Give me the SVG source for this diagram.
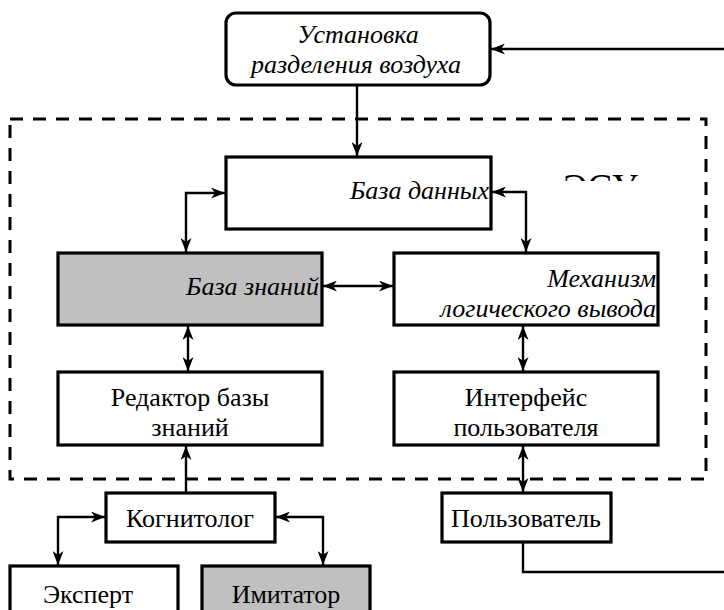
<svg xmlns="http://www.w3.org/2000/svg" width="724" height="610" viewBox="0 0 724 610">
<style>
.box{fill:#ffffff;stroke:#000;stroke-width:3.2}
.gray{fill:#c0c0c0;stroke:#000;stroke-width:3.2}
.t{font-family:'Liberation Serif','Times New Roman',serif;font-size:26px;fill:#000}
.i{font-style:italic}
.c{stroke:#000;stroke-width:2.4;fill:none}
.bi{marker-start:url(#arr);marker-end:url(#arr)}
.one{marker-end:url(#arr)}
</style>
<defs>
<marker id="arr" markerUnits="userSpaceOnUse" markerWidth="15" markerHeight="11" viewBox="0 0 15 11" refX="14" refY="5.5" orient="auto-start-reverse">
<path d="M0,0 L14,5.5 L0,11 L4,5.5 z" fill="#000"/>
</marker>
<clipPath id="esuClip"><rect x="540" y="160" width="140" height="21"/></clipPath>
</defs>

<rect id="esu-frame" x="10" y="119" width="696" height="360" fill="none" stroke="#000" stroke-width="3" stroke-dasharray="13 10"/>

<text class="t" x="563" y="200" style="font-size:37px" clip-path="url(#esuClip)">ЭСУ</text>

<g id="connectors">
<path class="c one" d="M357,86 V156"/>
<path class="c bi" d="M225,193 H186 V252"/>
<path class="c bi" d="M492,192 H526 V252"/>
<path class="c bi" d="M323,286 H393"/>
<path class="c bi" d="M188,326 V371"/>
<path class="c bi" d="M523,326 V371"/>
<path class="c one" d="M186,492 V446"/>
<path class="c bi" d="M523,446 V492"/>
<path class="c bi" d="M105,517 H58 V565"/>
<path class="c bi" d="M276,517 H323 V565"/>
<path class="c" d="M523,543 V572 H724"/>
<path class="c one" d="M724,49 H491"/>
</g>

<g id="plant">
<rect class="box" x="226" y="13" width="264" height="72" rx="10"/>
<text class="t i" x="358" y="43" text-anchor="middle">Установка</text>
<text class="t i" x="356" y="73" text-anchor="middle">разделения воздуха</text>
</g>

<g id="database">
<rect class="box" x="226" y="157" width="265" height="72"/>
<text class="t i" x="489" y="199" text-anchor="end">База данных</text>
</g>

<g id="knowledge-base">
<rect class="gray" x="58" y="253" width="264" height="72"/>
<text class="t i" x="319" y="295" text-anchor="end">База знаний</text>
</g>

<g id="inference">
<rect class="box" x="394" y="253" width="264" height="72"/>
<text class="t i" x="656" y="287" text-anchor="end">Механизм</text>
<text class="t i" x="656" y="317" text-anchor="end">логического вывода</text>
</g>

<g id="editor">
<rect class="box" x="58" y="372" width="264" height="73"/>
<text class="t" x="190" y="406" text-anchor="middle">Редактор базы</text>
<text class="t" x="190" y="436" text-anchor="middle">знаний</text>
</g>

<g id="interface">
<rect class="box" x="394" y="372" width="264" height="73"/>
<text class="t" x="526" y="406" text-anchor="middle">Интерфейс</text>
<text class="t" x="526" y="436" text-anchor="middle">пользователя</text>
</g>

<g id="cognitologist">
<rect class="box" x="106" y="493" width="169" height="49"/>
<text class="t" x="190" y="527" text-anchor="middle">Когнитолог</text>
</g>

<g id="user">
<rect class="box" x="442" y="493" width="169" height="49"/>
<text class="t" x="526" y="527" text-anchor="middle">Пользователь</text>
</g>

<g id="expert">
<rect class="box" x="10" y="566" width="168" height="60"/>
<text class="t" x="88" y="603" text-anchor="middle">Эксперт</text>
</g>

<g id="imitator">
<rect class="gray" x="202" y="566" width="168" height="60"/>
<text class="t" x="286" y="603" text-anchor="middle">Имитатор</text>
</g>
</svg>
